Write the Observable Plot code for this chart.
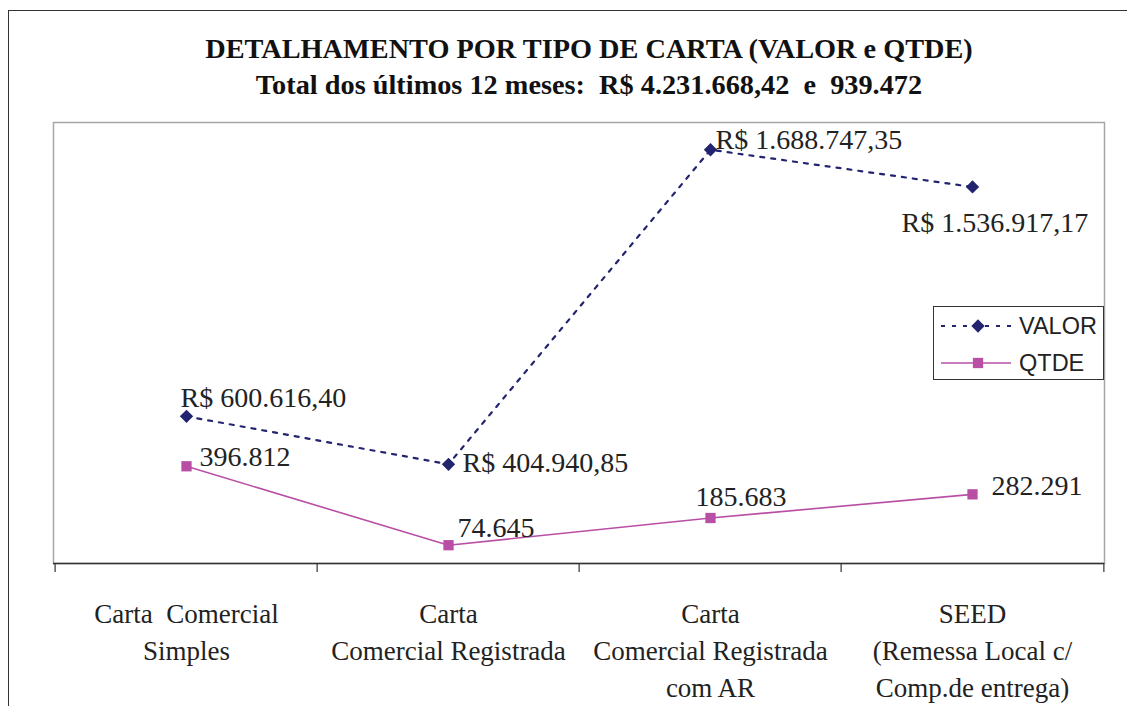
<!DOCTYPE html>
<html>
<head>
<meta charset="utf-8">
<script src="https://cdn.jsdelivr.net/npm/d3@7"></script>
<script src="https://cdn.jsdelivr.net/npm/@observablehq/plot@0.6"></script>
<style>
  html, body { margin: 0; padding: 0; background: #fff; overflow: hidden; }
  #wrap { position: relative; width: 1127px; height: 706px; }
  #chart { position: absolute; left: 0; top: 0; }
  #outer { position: absolute; left: 8px; top: 10px; width: 1400px; height: 1000px;
           border-left: 1.5px solid #333; border-top: 1.5px solid #333; pointer-events: none; }
  #title { position: absolute; left: 0; top: 31px; width: 1178px; text-align: center;
           font-family: "Liberation Serif", "Times New Roman", serif; font-weight: bold;
           font-size: 28.3px; line-height: 36px; color: #111; white-space: pre; }
  #legend { position: absolute; left: 933px; top: 306px; width: 171px; height: 74px;
            box-sizing: border-box; border: 1.5px solid #333; background: #fff; }
  #legend svg { display: block; }
</style>
</head>
<body>
<div id="wrap">
  <div id="chart"></div>
  <div id="outer"></div>
  <div id="title"></div>
  <div id="legend"></div>
</div>
<script>
// ---- data ----
const titleLines = [
  "DETALHAMENTO POR TIPO DE CARTA (VALOR e QTDE)",
  "Total dos últimos 12 meses:  R$ 4.231.668,42  e  939.472"
];
const categories = [
  "Carta Comercial Simples",
  "Carta Comercial Registrada",
  "Carta Comercial Registrada com AR",
  "SEED"
];
const categoryLabels = [
  "Carta\u00a0 Comercial\nSimples",
  "Carta\nComercial Registrada",
  "Carta\nComercial Registrada\ncom AR",
  "SEED\n(Remessa Local c/\nComp.de entrega)"
];
const seriesNames = ["VALOR", "QTDE"];
const valor = [600616.40, 404940.85, 1688747.35, 1536917.17];
const qtde = [396812, 74645, 185683, 282291];

// ---- styling / layout ----
const W = 1127, H = 706, mL = 53, mR = 23, mT = 122, mB = 143;
const plotH = H - mT - mB;
const step = (W - mL - mR) / categories.length;
const colV = "#23246f", colQ = "#b94fa5";
const serif = "Liberation Serif, Times New Roman, serif";
// label nudges [dx, dy] relative to each marker (Excel label placement)
const nudgeV = [[-6, -18], [14, -1], [5, -10], [-71, 36]];
const nudgeQ = [[13, -9], [9, -17], [-15, -21], [19, -8]];

const br = d3.formatLocale({decimal: ",", thousands: ".", grouping: [3], currency: ["R$ ", ""]});
const fmtV = br.format("$,.2f");
const fmtQ = br.format(",d");

const rowsV = categories.map((c, i) => ({cat: c, v: valor[i], label: fmtV(valor[i])}));
const rowsQ = categories.map((c, i) => ({cat: c, v: qtde[i], label: fmtQ(qtde[i])}));

const labelMarks = (rows, nudges) => rows.map((r, i) => Plot.text([r], {
  x: "cat", y: "v", text: "label", dx: nudges[i][0], dy: nudges[i][1],
  textAnchor: "start", lineAnchor: "middle", fontSize: 28, fontFamily: serif, fill: "#222"
}));

const chart = Plot.plot({
  width: W, height: H,
  marginLeft: mL, marginRight: mR, marginTop: mT, marginBottom: mB,
  style: {fontFamily: serif, background: "transparent"},
  x: {type: "band", domain: categories, padding: 0, axis: null},
  y: {domain: [0, 1800000], axis: null},
  marks: [
    Plot.frame({stroke: "#a6a6a6", strokeWidth: 1.5}),
    Plot.ruleY([0], {stroke: "#333", strokeWidth: 1.5}),
    Plot.ruleX(categories, {x: d => d, dx: -step / 2, insetTop: plotH, insetBottom: -9, stroke: "#333", strokeWidth: 1.2}),
    Plot.ruleX(categories.slice(-1), {x: d => d, dx: step / 2, insetTop: plotH, insetBottom: -9, stroke: "#333", strokeWidth: 1.2}),
    Plot.text(categories, {
      x: d => d, text: (d, i) => categoryLabels[i],
      frameAnchor: "bottom", lineAnchor: "top", dy: 33, lineHeight: 37 / 27,
      fontSize: 27, fontFamily: serif, fill: "#222"
    }),
    Plot.line(rowsQ, {x: "cat", y: "v", stroke: colQ, strokeWidth: 1.6}),
    Plot.dot(rowsQ, {x: "cat", y: "v", symbol: "square", r: 5.8, fill: colQ, stroke: "none"}),
    Plot.line(rowsV, {x: "cat", y: "v", stroke: colV, strokeWidth: 2.2, strokeDasharray: "4,7"}),
    Plot.dot(rowsV, {x: "cat", y: "v", symbol: "diamond2", r: 6, fill: colV, stroke: "none"}),
    ...labelMarks(rowsV, nudgeV),
    ...labelMarks(rowsQ, nudgeQ)
  ]
});
document.getElementById("chart").appendChild(chart);

// title
const t = document.getElementById("title");
titleLines.forEach(s => { const d = document.createElement("div"); d.textContent = s; t.appendChild(d); });

// legend
const lg = d3.select("#legend").append("svg").attr("width", 168).attr("height", 71);
const items = [
  {name: seriesNames[0], color: colV, dash: "4,7", sym: d3.symbolDiamond2, size: Math.PI * 6 * 6, sw: 2.2},
  {name: seriesNames[1], color: colQ, dash: null, sym: d3.symbolSquare, size: Math.PI * 5.8 * 5.8, sw: 1.6}
];
items.forEach((it, i) => {
  const y = 19 + i * 37;
  lg.append("line").attr("x1", 7).attr("x2", 77).attr("y1", y).attr("y2", y)
    .attr("stroke", it.color).attr("stroke-width", it.sw).attr("stroke-dasharray", it.dash);
  lg.append("path").attr("d", d3.symbol(it.sym, it.size)()).attr("transform", `translate(44,${y})`).attr("fill", it.color);
  lg.append("text").attr("x", 85).attr("y", y + 8).text(it.name)
    .attr("font-family", "Liberation Sans, Arial, sans-serif").attr("font-size", 23.5).attr("fill", "#222");
});
</script>
</body>
</html>
